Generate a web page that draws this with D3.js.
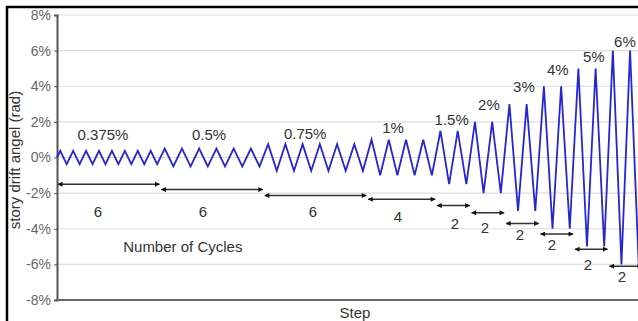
<!DOCTYPE html>
<html>
<head>
<meta charset="utf-8">
<script src="https://cdn.jsdelivr.net/npm/d3@7"></script>
<style>
  body { margin: 0; background: #fff; }
  svg { display: block; font-family: "Liberation Sans", Arial, sans-serif; }
</style>
</head>
<body>
<div id="chart"></div>
<script>
// Data
const amplitudes = [0.375, 0.5, 0.75, 1, 1.5, 2, 3, 4, 5, 6];       // % drift per group
const ampLabels = ["0.375%", "0.5%", "0.75%", "1%", "1.5%", "2%", "3%", "4%", "5%", "6%"];
const cycleCounts = [6, 6, 6, 4, 2, 2, 2, 2, 2, 2];                  // labelled cycles (step span)
const drawnCycles = [8, 6, 6, 4, 2, 2, 2, 2, 2, 2];                  // waves actually drawn
const yTicks = [-8, -6, -4, -2, 0, 2, 4, 6, 8];
// annotation anchors in data units (step, %)
const ampLabelX = [2.67, 8.82, 14.4, 19.5, 22.9, 25.06, 27.09, 29.06, 31.15, 32.95];
const ampLabelY = [1.29, 1.29, 1.32, 1.68, 2.13, 2.97, 3.98, 4.93, 5.66, 6.5];
const arrowY = [-1.5, -1.8, -2.13, -2.35, -2.7, -3.1, -3.7, -4.3, -5.15, -6.1];
const countLabelX = [2.38, 8.47, 14.85, 19.78, 23.09, 24.83, 26.86, 28.71, 30.8, 32.77];
const countLabelY = [-3.03, -3.03, -3.03, -3.3, -3.7, -3.92, -4.31, -4.87, -6.0, -6.67];

const W = 638, H = 321;
const svg = d3.select("#chart").append("svg")
    .attr("width", W)
    .attr("height", H);

// outer black frame (cut off at right and bottom)
svg.append("rect")
    .attr("x", 7).attr("y", 7)
    .attr("width", 660).attr("height", 340)
    .attr("fill", "#fff")
    .attr("stroke", "#000")
    .attr("stroke-width", 2.5);

const total = d3.sum(cycleCounts);
const x = d3.scaleLinear().domain([0, total]).range([57, 643]);
const y = d3.scaleLinear().domain([-8, 8]).range([300, 15]);

// gridlines
svg.append("g")
    .selectAll("line")
    .data(yTicks)
    .join("line")
    .attr("x1", x(0)).attr("x2", W)
    .attr("y1", d => y(d)).attr("y2", d => y(d))
    .attr("stroke", "#dedede")
    .attr("stroke-width", 1.2);

// Y axis
const yAxis = svg.append("g")
    .attr("transform", `translate(${x(0)},0)`)
    .call(d3.axisLeft(y).tickValues(yTicks).tickFormat(d => d + "%").tickSize(3).tickPadding(3));
yAxis.select(".domain").attr("stroke", "#555").attr("stroke-width", 2);
yAxis.selectAll(".tick line").attr("stroke", "#555");
yAxis.selectAll(".tick text")
    .attr("fill", "#666")
    .attr("font-size", 14)
    .attr("font-family", "Liberation Sans, Arial, sans-serif");

// X axis (no ticks)
svg.append("line")
    .attr("x1", x(0) - 1).attr("x2", W)
    .attr("y1", y(-8)).attr("y2", y(-8))
    .attr("stroke", "#666")
    .attr("stroke-width", 2);

// build triangular loading history from the group arrays
const wave = [[0, 0]];
let start = 0;
amplitudes.forEach((a, i) => {
  const T = cycleCounts[i] / drawnCycles[i];
  for (let k = 0; k < drawnCycles[i]; k++) {
    wave.push([start + k * T + T / 4, a]);
    wave.push([start + k * T + 3 * T / 4, -a]);
  }
  start += cycleCounts[i];
});
wave.push([start, 0]);

svg.append("path")
    .datum(wave)
    .attr("fill", "none")
    .attr("stroke", "#2626d4")
    .attr("stroke-width", 1.8)
    .attr("stroke-linejoin", "miter")
    .attr("d", d3.line().x(d => x(d[0])).y(d => y(d[1])));

// arrow markers
const defs = svg.append("defs");
defs.append("marker")
    .attr("id", "ah")
    .attr("viewBox", "0 0 10 10")
    .attr("refX", 9).attr("refY", 5)
    .attr("markerWidth", 6).attr("markerHeight", 5)
    .attr("markerUnits", "userSpaceOnUse")
    .attr("orient", "auto-start-reverse")
    .append("path")
    .attr("d", "M0,0L10,5L0,10z")
    .attr("fill", "#111");

const groupStart = cycleCounts.map((c, i) => d3.sum(cycleCounts.slice(0, i)));

svg.append("g")
    .selectAll("line")
    .data(cycleCounts)
    .join("line")
    .attr("x1", (d, i) => x(groupStart[i]) + 1)
    .attr("x2", (d, i) => x(groupStart[i] + d) - 1)
    .attr("y1", (d, i) => y(arrowY[i]))
    .attr("y2", (d, i) => y(arrowY[i]))
    .attr("stroke", "#333")
    .attr("stroke-width", 1.5)
    .attr("marker-start", "url(#ah)")
    .attr("marker-end", "url(#ah)");

const textStyle = sel => sel
    .attr("fill", "#333")
    .attr("font-size", 15)
    .attr("text-anchor", "middle")
    .attr("dominant-baseline", "central");

// cycle count labels
svg.append("g")
    .selectAll("text")
    .data(cycleCounts)
    .join("text")
    .attr("x", (d, i) => x(countLabelX[i]))
    .attr("y", (d, i) => y(countLabelY[i]))
    .text(d => d)
    .call(textStyle);

// amplitude labels
svg.append("g")
    .selectAll("text")
    .data(ampLabels)
    .join("text")
    .attr("x", (d, i) => x(ampLabelX[i]))
    .attr("y", (d, i) => y(ampLabelY[i]))
    .text(d => d)
    .call(textStyle);

svg.append("text")
    .attr("x", x(7.3))
    .attr("y", y(-5.0))
    .text("Number of Cycles")
    .call(textStyle);

svg.append("text")
    .attr("x", 355)
    .attr("y", 312)
    .text("Step")
    .call(textStyle);

svg.append("text")
    .attr("transform", "translate(14,160) rotate(-90)")
    .text("story drift angel (rad)")
    .call(textStyle);
</script>
</body>
</html>
